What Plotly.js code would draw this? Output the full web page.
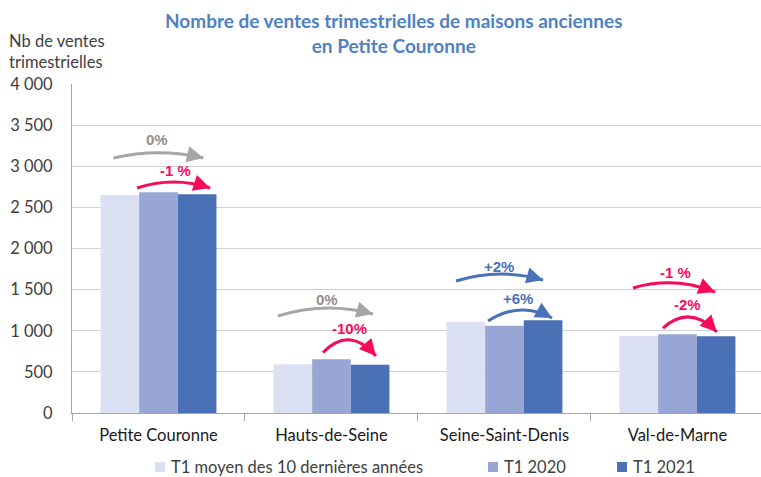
<!DOCTYPE html>
<html><head><meta charset="utf-8">
<script src="https://cdn.plot.ly/plotly-3.0.1.min.js"></script>
<style>html,body{margin:0;padding:0;background:#fff}</style>
</head><body><div id="chart" style="width:761px;height:477px"></div>
<script>
// ---- data ----
const categories = ['Petite Couronne', 'Hauts-de-Seine', 'Seine-Saint-Denis', 'Val-de-Marne'];
const seriesNames = ['T1 moyen des 10 dernières années', 'T1 2020', 'T1 2021'];
const avg10 = [2650, 592, 1110, 940];
const t2020 = [2683, 653, 1062, 957];
const t2021 = [2659, 587, 1127, 932];
const yTicks = [0, 500, 1000, 1500, 2000, 2500, 3000, 3500, 4000];
const changeVsAvg = ['0%', '0%', '+2%', '-1 %'];
const changeVs2020 = ['-1 %', '-10%', '+6%', '-2%'];
const titleText = 'Nombre de ventes trimestrielles de maisons anciennes<br>en Petite Couronne';
const yTitleText = 'Nb de ventes<br>trimestrielles';

// ---- styles / placement ----
const seriesColors = ['#dce0f3', '#97a6d4', '#4a71b6'];
const FONT = 'Lato, "Open Sans", sans-serif';
const LBL = '"Liberation Sans", Arial, sans-serif';
const GREY = '#a6a6a6', GREY_T = '#909090', PINK = '#f80a5a', BLUE = '#4a72b8';
const M = {l: 72, r: 0, t: 84, b: 64};
const W = 761, H = 477;
const xRange = [-0.5, 3.483];
const plotW = W - M.l - M.r, plotH = H - M.t - M.b;
const xs = plotW / (xRange[1] - xRange[0]);
const ys = plotH / 4000;
const px = v => (v - M.l) / plotW;          // page px -> paper x
const py = v => (M.t + plotH - v) / plotH;  // page px -> paper y

// arrow placement (annotation layout, in axis units)
const arrowAvg = [
  {x0: -0.26, x1: 0.26, lx: -0.01, y0: 3100, yp: 3165, y1: 3100, ly: 3331},
  {x0: -0.31, x1: 0.24, lx: -0.026, y0: 1179, yp: 1277, y1: 1204, ly: 1386},
  {x0: -0.28, x1: 0.223, lx: -0.03, y0: 1605, yp: 1690, y1: 1617, ly: 1787},
  {x0: -0.257, x1: 0.217, lx: -0.01, y0: 1520, yp: 1581, y1: 1471, ly: 1714}
];
const arrowPrev = [
  {x0: -0.124, x1: 0.298, lx: 0.10, y0: 2736, yp: 2809, y1: 2736, ly: 2954},
  {x0: -0.049, x1: 0.257, lx: 0.107, y0: 735, yp: 890, y1: 693, ly: 1033},
  {x0: -0.095, x1: 0.275, lx: 0.078, y0: 1119, yp: 1252, y1: 1155, ly: 1398},
  {x0: -0.084, x1: 0.228, lx: 0.06, y0: 1033, yp: 1167, y1: 985, ly: 1325}
];

const shapes = [], annotations = [];

function addArrow(cat, p, label) {
  const color = label.startsWith('+') ? BLUE : (label.startsWith('-') ? PINK : GREY);
  const tcolor = color === GREY ? GREY_T : color;
  const X0 = cat + p.x0, X1 = cat + p.x1, XC = (X0 + X1) / 2;
  const YC = 2 * p.yp - (p.y0 + p.y1) / 2;
  shapes.push({type: 'path', xref: 'x', yref: 'y', layer: 'above',
    path: `M ${X0},${p.y0} Q ${XC},${YC} ${X1},${p.y1}`,
    line: {color: color, width: 3}});
  let dx = (X1 - XC) * xs, dy = -(p.y1 - YC) * ys;
  const n = Math.hypot(dx, dy); dx /= n; dy /= n;
  annotations.push({x: X1, y: p.y1, xref: 'x', yref: 'y', ax: -dx * 9, ay: -dy * 9,
    showarrow: true, arrowhead: 2, arrowsize: 1.1, arrowwidth: 3, arrowcolor: color,
    standoff: 0, text: ''});
  annotations.push({x: cat + p.lx, y: p.ly, xref: 'x', yref: 'y', text: label, showarrow: false,
    font: {family: LBL, size: 15, color: tcolor, weight: 'bold'}});
}
categories.forEach((c, i) => {
  addArrow(i, arrowAvg[i], changeVsAvg[i]);
  addArrow(i, arrowPrev[i], changeVs2020[i]);
});

// chart title
annotations.push({xref: 'paper', yref: 'paper', x: px(394), y: py(7), xanchor: 'center', yanchor: 'top',
  showarrow: false, text: titleText, align: 'center',
  font: {family: FONT, size: 19, color: '#4f81c4', weight: 'bold'}});

// y-axis title
annotations.push({xref: 'paper', yref: 'paper', x: px(7), y: py(52),
  xanchor: 'left', yanchor: 'middle', align: 'left', showarrow: false,
  text: yTitleText, font: {family: FONT, size: 16.5, color: '#404040'}});

// custom legend
const legendX = [155, 488, 617];
const legendY = py(467);
seriesNames.forEach((name, i) => {
  shapes.push({type: 'rect', xref: 'paper', yref: 'paper', xsizemode: 'pixel', ysizemode: 'pixel',
    xanchor: px(legendX[i]), yanchor: legendY, x0: 0, x1: 10, y0: -5, y1: 5,
    fillcolor: seriesColors[i], line: {width: 0}});
  annotations.push({xref: 'paper', yref: 'paper', x: px(legendX[i] + 14), y: legendY,
    xanchor: 'left', yanchor: 'middle', showarrow: false, text: name,
    font: {family: FONT, size: 16.5, color: '#404040'}});
});

const series = [avg10, t2020, t2021];
const traces = series.map((vals, i) => ({
  type: 'bar', name: seriesNames[i], x: categories, y: vals,
  marker: {color: seriesColors[i], line: {width: 0}}, hoverinfo: 'skip'
}));

const layout = {
  width: W, height: H, margin: M, paper_bgcolor: '#fff', plot_bgcolor: '#fff',
  showlegend: false, separators: ', ',
  barmode: 'group', bargap: 0.33, bargroupgap: 0,
  xaxis: {type: 'category', range: xRange, tickson: 'boundaries', ticks: 'outside', ticklen: 7,
    tickcolor: '#a6a6a6', showline: true, linecolor: '#a6a6a6', linewidth: 1, showgrid: false,
    tickfont: {family: FONT, size: 16.5, color: '#1a1a1a'}, ticklabelstandoff: 7, fixedrange: true},
  yaxis: {range: [0, 4000], tickvals: yTicks, tickformat: ',', showgrid: true, gridcolor: '#d0d0d0',
    showline: true, linecolor: '#a6a6a6', linewidth: 1, ticks: '', zeroline: false,
    tickfont: {family: FONT, size: 16.5, color: '#404040'}, ticklabelstandoff: 15, fixedrange: true},
  shapes: shapes, annotations: annotations
};
Plotly.newPlot('chart', traces, layout, {staticPlot: true, displayModeBar: false});
</script></body></html>
